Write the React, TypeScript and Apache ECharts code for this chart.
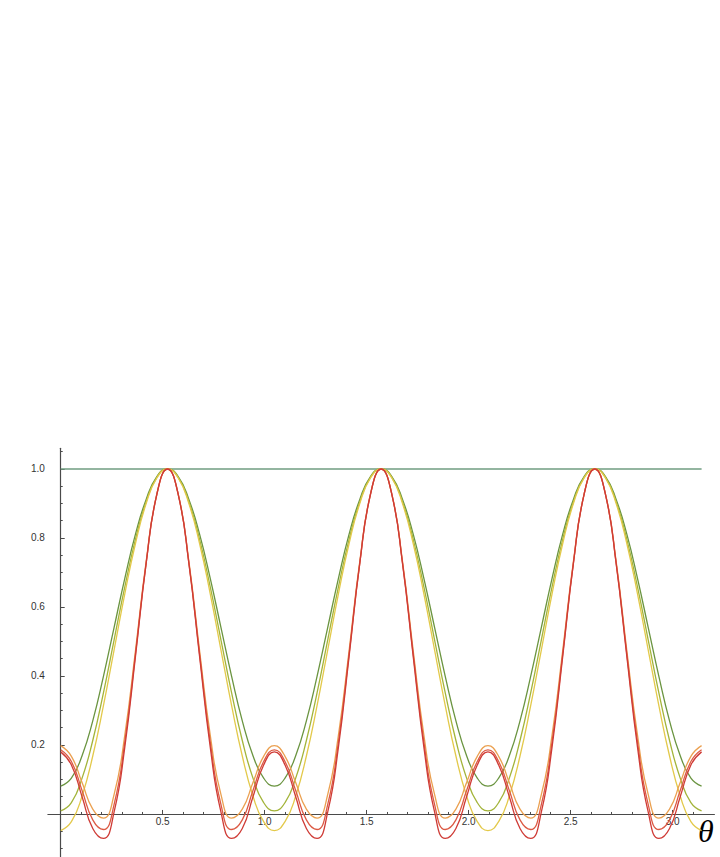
import React, { useEffect, useRef } from "react";
import * as echarts from "echarts";

// θ sample positions (radians, 3° steps from 0 to π)
const theta = [
  0, 0.0524, 0.1047, 0.1571, 0.2094, 0.2618, 0.3142, 0.3665, 0.4189, 0.4712,
  0.5236, 0.576, 0.6283, 0.6807, 0.733, 0.7854, 0.8378, 0.8901, 0.9425, 0.9948,
  1.0472, 1.0996, 1.1519, 1.2043, 1.2566, 1.309, 1.3614, 1.4137, 1.4661, 1.5184,
  1.5708, 1.6232, 1.6755, 1.7279, 1.7802, 1.8326, 1.885, 1.9373, 1.9897, 2.042,
  2.0944, 2.1468, 2.1991, 2.2515, 2.3038, 2.3562, 2.4086, 2.4609, 2.5133, 2.5656,
  2.618, 2.6704, 2.7227, 2.7751, 2.8274, 2.8798, 2.9322, 2.9845, 3.0369, 3.0892,
  3.1416,
];

const constantTheta = [0, 3.1416];
const constantValues = [1, 1];

const darkGreen = [
  0.081, 0.104, 0.169, 0.27, 0.399, 0.541, 0.683, 0.811, 0.912, 0.978, 1, 0.978, 0.912, 0.811, 0.683, 0.541, 0.399, 0.27, 0.169, 0.104,
  0.081, 0.104, 0.169, 0.27, 0.399, 0.541, 0.683, 0.811, 0.912, 0.978, 1, 0.978, 0.912, 0.811, 0.683, 0.541, 0.399, 0.27, 0.169, 0.104,
  0.081, 0.104, 0.169, 0.27, 0.399, 0.541, 0.683, 0.811, 0.912, 0.978, 1, 0.978, 0.912, 0.811, 0.683, 0.541, 0.399, 0.27, 0.169, 0.104,
  0.081,
];

const yellowGreen = [
  0.009, 0.033, 0.104, 0.213, 0.351, 0.505, 0.658, 0.796, 0.905, 0.976, 1, 0.976, 0.905, 0.796, 0.658, 0.505, 0.351, 0.213, 0.104, 0.033,
  0.009, 0.033, 0.104, 0.213, 0.351, 0.505, 0.658, 0.796, 0.905, 0.976, 1, 0.976, 0.905, 0.796, 0.658, 0.505, 0.351, 0.213, 0.104, 0.033,
  0.009, 0.033, 0.104, 0.213, 0.351, 0.505, 0.658, 0.796, 0.905, 0.976, 1, 0.976, 0.905, 0.796, 0.658, 0.505, 0.351, 0.213, 0.104, 0.033,
  0.009,
];

const yellow = [
  -0.048, -0.022, 0.052, 0.168, 0.314, 0.476, 0.638, 0.784, 0.9, 0.974, 1, 0.974, 0.9, 0.784, 0.638, 0.476, 0.314, 0.168, 0.052, -0.022,
  -0.048, -0.022, 0.052, 0.168, 0.314, 0.476, 0.638, 0.784, 0.9, 0.974, 1, 0.974, 0.9, 0.784, 0.638, 0.476, 0.314, 0.168, 0.052, -0.022,
  -0.048, -0.022, 0.052, 0.168, 0.314, 0.476, 0.638, 0.784, 0.9, 0.974, 1, 0.974, 0.9, 0.784, 0.638, 0.476, 0.314, 0.168, 0.052, -0.022,
  -0.048,
];

const orange = [
  0.198, 0.167, 0.091, 0.014, -0.012, 0.057, 0.229, 0.474, 0.732, 0.927, 1, 0.927, 0.732, 0.474, 0.229, 0.057, -0.012, 0.014, 0.091, 0.167,
  0.198, 0.167, 0.091, 0.014, -0.012, 0.057, 0.229, 0.474, 0.732, 0.927, 1, 0.927, 0.732, 0.474, 0.229, 0.057, -0.012, 0.014, 0.091, 0.167,
  0.198, 0.167, 0.091, 0.014, -0.012, 0.057, 0.229, 0.474, 0.732, 0.927, 1, 0.927, 0.732, 0.474, 0.229, 0.057, -0.012, 0.014, 0.091, 0.167,
  0.198,
];

const red = [
  0.186, 0.152, 0.068, -0.017, -0.045, 0.028, 0.209, 0.464, 0.728, 0.927, 1, 0.927, 0.728, 0.464, 0.209, 0.028, -0.045, -0.017, 0.068, 0.152,
  0.186, 0.152, 0.068, -0.017, -0.045, 0.028, 0.209, 0.464, 0.728, 0.927, 1, 0.927, 0.728, 0.464, 0.209, 0.028, -0.045, -0.017, 0.068, 0.152,
  0.186, 0.152, 0.068, -0.017, -0.045, 0.028, 0.209, 0.464, 0.728, 0.927, 1, 0.927, 0.728, 0.464, 0.209, 0.028, -0.045, -0.017, 0.068, 0.152,
  0.186,
];

const darkRed = [
  0.18, 0.142, 0.05, -0.042, -0.071, 0.006, 0.194, 0.457, 0.726, 0.926, 1, 0.926, 0.726, 0.457, 0.194, 0.006, -0.071, -0.042, 0.05, 0.142,
  0.18, 0.142, 0.05, -0.042, -0.071, 0.006, 0.194, 0.457, 0.726, 0.926, 1, 0.926, 0.726, 0.457, 0.194, 0.006, -0.071, -0.042, 0.05, 0.142,
  0.18, 0.142, 0.05, -0.042, -0.071, 0.006, 0.194, 0.457, 0.726, 0.926, 1, 0.926, 0.726, 0.457, 0.194, 0.006, -0.071, -0.042, 0.05, 0.142,
  0.18,
];

const xMajorTicks = [0.5, 1.0, 1.5, 2.0, 2.5, 3.0];
const xMinorTicks = [
  0.1, 0.2, 0.3, 0.4, 0.6, 0.7, 0.8, 0.9, 1.1, 1.2, 1.3, 1.4, 1.6, 1.7, 1.8, 1.9,
  2.1, 2.2, 2.3, 2.4, 2.6, 2.7, 2.8, 2.9, 3.1,
];
const yMajorTicks = [0.2, 0.4, 0.6, 0.8, 1.0];
const yMinorTicks = [
  -0.1, -0.05, 0.05, 0.1, 0.15, 0.25, 0.3, 0.35, 0.45, 0.5, 0.55, 0.65, 0.7, 0.75,
  0.85, 0.9, 0.95, 1.05,
];

const seriesDefs = [
  { name: "c0", values: darkGreen, color: "#6a9440" },
  { name: "c1", values: yellowGreen, color: "#a3b43a" },
  { name: "c2", values: yellow, color: "#e3c94a" },
  { name: "c3", values: orange, color: "#eba050" },
  { name: "c4", values: red, color: "#dc5a44" },
  { name: "c5", values: darkRed, color: "#cf3b36" },
];

const AXIS_COLOR = "#4a4a4a";
const LABEL_COLOR = "#333333";
const X_MIN = -0.0628;
const X_MAX = 3.2044;
const Y_MIN = -0.125;
const Y_MAX = 1.06;
const GRID_TOP = 448.3;
const GRID_HEIGHT = 408.8;
// distance from the grid's bottom edge up to the y = 0 line
const ZERO_OFFSET = -((-Y_MIN) / (Y_MAX - Y_MIN)) * GRID_HEIGHT;

export default function App() {
  const ref = useRef<HTMLDivElement>(null);

  useEffect(() => {
    if (!ref.current) return;
    const chart = echarts.init(ref.current, null, { renderer: "svg" });

    const fmt = (v: number) => v.toFixed(1);

    const series: any[] = [
      {
        type: "line",
        name: "const",
        data: constantTheta.map((t, i) => [t, constantValues[i]]),
        symbol: "none",
        lineStyle: { color: "#6f9c80", width: 1.3 },
        xAxisIndex: 0,
        yAxisIndex: 0,
      },
      ...seriesDefs.map((s) => ({
        type: "line",
        name: s.name,
        data: theta.map((t, i) => [t, s.values[i]]),
        smooth: 0.5,
        symbol: "none",
        lineStyle: { color: s.color, width: 1.3 },
        xAxisIndex: 0,
        yAxisIndex: 0,
      })),
    ];

    chart.setOption({
      animation: false,
      backgroundColor: "#ffffff",
      grid: {
        left: 47.9,
        width: 666.5,
        top: GRID_TOP,
        height: GRID_HEIGHT,
        outerBoundsMode: "none",
        containLabel: false,
      },
      xAxis: [
        {
          type: "value",
          min: X_MIN,
          max: X_MAX,
          position: "bottom",
          offset: ZERO_OFFSET,
          axisLine: { show: true, onZero: false, lineStyle: { color: AXIS_COLOR, width: 1.2 } },
          axisTick: {
            show: true,
            inside: true,
            length: 4,
            customValues: xMajorTicks,
            lineStyle: { color: AXIS_COLOR, width: 1 },
          },
          axisLabel: {
            show: true,
            customValues: xMajorTicks,
            formatter: fmt,
            margin: 3,
            fontSize: 10,
            fontFamily: "Liberation Sans, Arial, sans-serif",
            color: LABEL_COLOR,
          },
          splitLine: { show: false },
        },
        {
          type: "value",
          min: X_MIN,
          max: X_MAX,
          position: "bottom",
          offset: ZERO_OFFSET,
          axisLine: { show: false, onZero: false },
          axisTick: {
            show: true,
            inside: true,
            length: 2,
            customValues: xMinorTicks,
            lineStyle: { color: AXIS_COLOR, width: 1 },
          },
          axisLabel: { show: false },
          splitLine: { show: false },
        },
      ],
      yAxis: [
        {
          type: "value",
          min: Y_MIN,
          max: Y_MAX,
          position: "left",
          axisLine: { show: true, onZero: true, lineStyle: { color: AXIS_COLOR, width: 1.2 } },
          axisTick: {
            show: true,
            inside: true,
            length: 4,
            customValues: yMajorTicks,
            lineStyle: { color: AXIS_COLOR, width: 1 },
          },
          axisLabel: {
            show: true,
            customValues: yMajorTicks,
            formatter: fmt,
            margin: 3,
            fontSize: 10,
            fontFamily: "Liberation Sans, Arial, sans-serif",
            color: LABEL_COLOR,
          },
          splitLine: { show: false },
        },
        {
          type: "value",
          min: Y_MIN,
          max: Y_MAX,
          position: "left",
          axisLine: { show: false, onZero: true },
          axisTick: {
            show: true,
            inside: true,
            length: 2,
            customValues: yMinorTicks,
            lineStyle: { color: AXIS_COLOR, width: 1 },
          },
          axisLabel: { show: false },
          splitLine: { show: false },
        },
      ],
      graphic: [
        {
          type: "text",
          left: 698,
          top: 815,
          style: {
            text: "θ",
            font: 'italic 32px "Liberation Serif", "DejaVu Serif", serif',
            fill: "#000000",
          },
        },
      ],
      series,
    });

    return () => {
      chart.dispose();
    };
  }, []);

  return (
    <div
      ref={ref}
      style={{ position: "fixed", left: 0, top: 0, width: 720, height: 857, background: "#fff" }}
    />
  );
}
